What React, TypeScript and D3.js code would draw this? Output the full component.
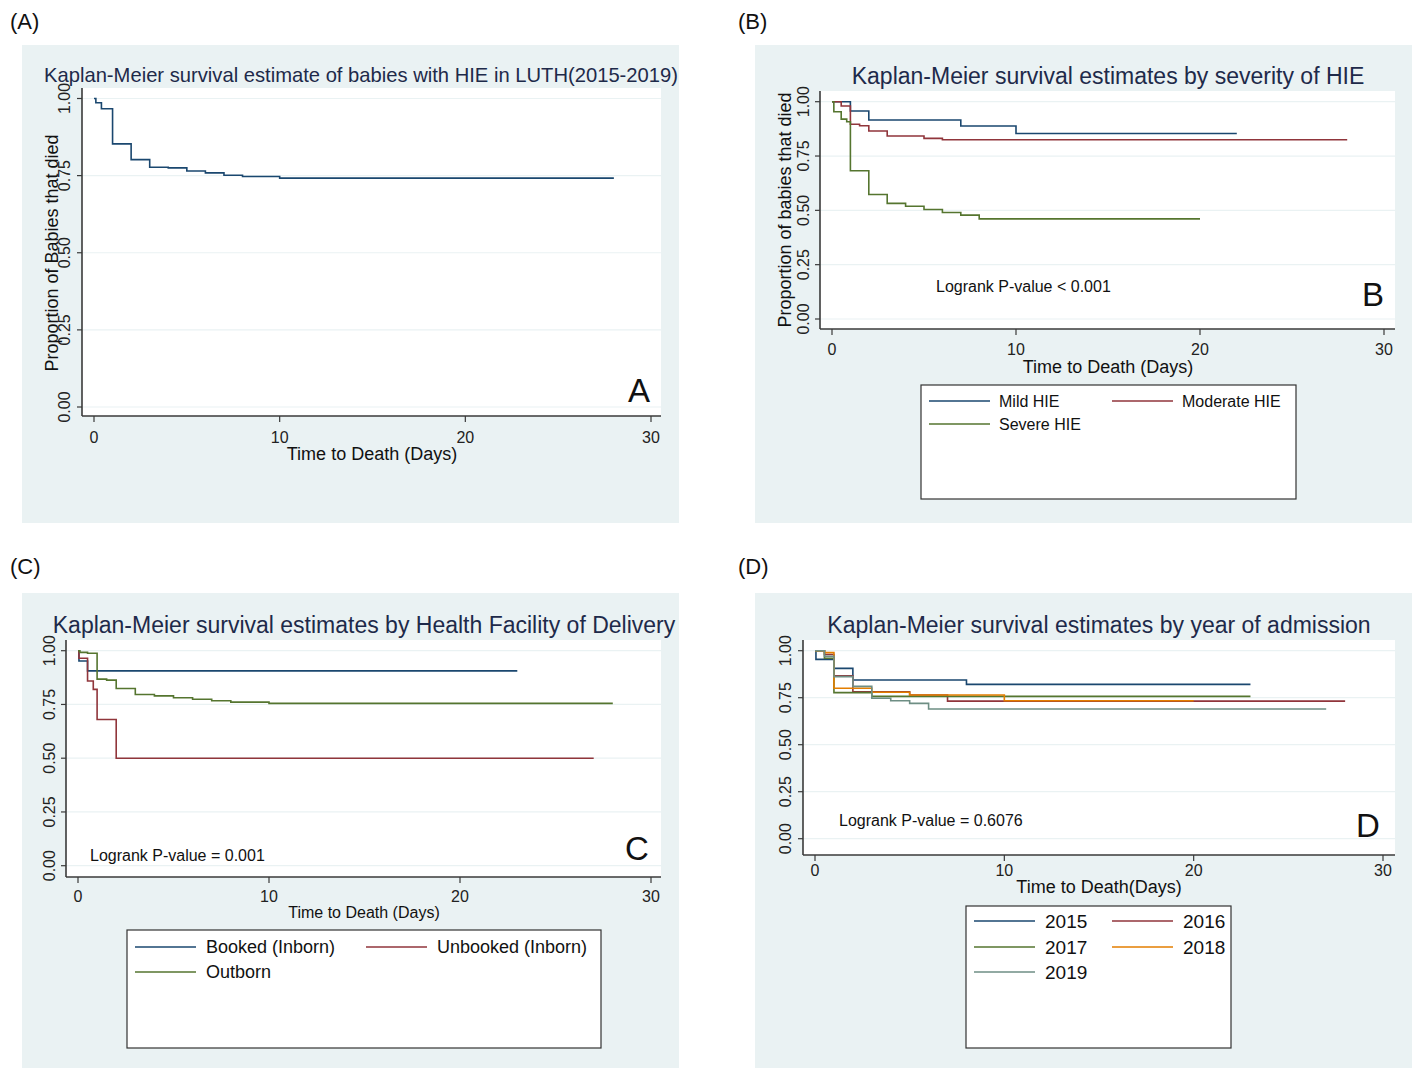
import * as d3 from 'd3';

// Kaplan-Meier step estimates (time in days, proportion surviving)
const dayTicks = [0, 10, 20, 30];
const propTicks = [0, 0.25, 0.5, 0.75, 1];

const overallT = [0, 0.1, 0.4, 1, 2, 3, 4, 5, 6, 7, 8, 10, 28];
const overallS = [1, 0.986, 0.967, 0.853, 0.802, 0.777, 0.775, 0.765, 0.759, 0.751, 0.747, 0.742, 0.742];

const mildT = [0, 1, 2, 7, 10, 22];
const mildS = [1, 0.957, 0.916, 0.888, 0.854, 0.854];
const moderateT = [0, 0.5, 1, 1.5, 2, 3, 5, 6, 28];
const moderateS = [1, 0.98, 0.896, 0.889, 0.865, 0.842, 0.831, 0.825, 0.825];
const severeT = [0, 0.1, 0.5, 0.8, 1, 2, 3, 4, 5, 6, 7, 8, 20];
const severeS = [1, 0.954, 0.92, 0.908, 0.682, 0.573, 0.532, 0.519, 0.504, 0.49, 0.478, 0.461, 0.461];

const bookedT = [0, 0.05, 0.5, 23];
const bookedS = [1, 0.952, 0.906, 0.906];
const unbookedT = [0, 0.05, 0.5, 0.8, 1, 2, 27];
const unbookedS = [1, 0.965, 0.859, 0.82, 0.68, 0.5, 0.5];
const outbornT = [0, 0.1, 0.5, 1, 1.5, 2, 3, 4, 5, 6, 7, 8, 10, 28];
const outbornS = [1, 0.992, 0.988, 0.868, 0.863, 0.824, 0.796, 0.79, 0.781, 0.774, 0.767, 0.761, 0.755, 0.755];

const y2015T = [0, 0.05, 1, 2, 8, 23];
const y2015S = [1, 0.954, 0.906, 0.844, 0.821, 0.821];
const y2016T = [0, 0.5, 1, 2, 5, 7, 28];
const y2016S = [1, 0.98, 0.867, 0.782, 0.764, 0.732, 0.732];
const y2017T = [0, 0.5, 1, 3, 23];
const y2017S = [1, 0.96, 0.777, 0.757, 0.757];
const y2018T = [0, 0.5, 1, 3, 5, 10, 20];
const y2018S = [1, 0.99, 0.8, 0.779, 0.764, 0.734, 0.734];
const y2019T = [0, 0.5, 1, 2, 3, 4, 5, 6, 27];
const y2019S = [1, 0.97, 0.862, 0.81, 0.747, 0.734, 0.72, 0.69, 0.69];

// stata s2color
const navy = '#1a476f';
const maroon = '#90353b';
const forest = '#55752f';
const dkorange = '#e37e00';
const teal = '#6e8e84';
const bgCol = '#eaf2f3';
const titleCol = '#1e2a4a';

const SANS = '"Liberation Sans", Arial, sans-serif';
const NARROW = '"Liberation Sans Narrow", "Liberation Sans", Arial, sans-serif';

const zip = (t, s) => t.map((d, i) => [d, s[i]]);

const panels = [
  {
    label: '(A)', lx: 10, ly: 29,
    bg: [22, 45, 657, 478],
    plot: { l: 82, t: 88, r: 661, b: 416 },
    xr: [94, 651], yr: [407, 98.5],
    title: 'Kaplan-Meier survival estimate of babies with HIE in LUTH(2015-2019)',
    tx: 361, ty: 82, tsize: 20.2,
    ytitle: 'Proportion of Babies that died', ytx: 58, yty: 253, ytsize: 18,
    ylabX: 70, ylabSize: 16,
    xlabY: 443, xlabSize: 16,
    xtitle: 'Time to Death (Days)', xtx: 372, xty: 460, xtsize: 18, xtfont: NARROW,
    letter: 'A', letX: 639, letY: 402,
    curves: [{ name: 'All', t: overallT, s: overallS, color: navy }],
  },
  {
    label: '(B)', lx: 738, ly: 29,
    bg: [755, 45, 657, 478],
    plot: { l: 820, t: 91, r: 1395, b: 329 },
    xr: [832, 1384], yr: [319, 101.7],
    title: 'Kaplan-Meier survival estimates by severity of HIE',
    tx: 1108, ty: 84, tsize: 23,
    ytitle: 'Proportion of babies that died', ytx: 791, yty: 210, ytsize: 18,
    ylabX: 809, ylabSize: 16,
    xlabY: 355, xlabSize: 16,
    xtitle: 'Time to Death (Days)', xtx: 1108, xty: 373, xtsize: 18, xtfont: NARROW,
    pval: 'Logrank P-value < 0.001', px: 936, py: 292,
    letter: 'B', letX: 1373, letY: 306,
    legend: { box: [921, 385, 375, 114], cols: [929, 1112], rows: [401, 424], size: 16, textGap: 70 },
    curves: [
      { name: 'Mild HIE', t: mildT, s: mildS, color: navy },
      { name: 'Moderate HIE', t: moderateT, s: moderateS, color: maroon },
      { name: 'Severe HIE', t: severeT, s: severeS, color: forest },
    ],
  },
  {
    label: '(C)', lx: 10, ly: 574,
    bg: [22, 593, 657, 475],
    plot: { l: 66, t: 640, r: 661, b: 877 },
    xr: [78, 651], yr: [865.7, 650.7],
    title: 'Kaplan-Meier survival estimates by Health Facility of Delivery',
    tx: 364, ty: 633, tsize: 23,
    ylabX: 55, ylabSize: 16,
    xlabY: 902, xlabSize: 16,
    xtitle: 'Time to Death (Days)', xtx: 364, xty: 918, xtsize: 16, xtfont: NARROW,
    pval: 'Logrank P-value = 0.001', px: 90, py: 861,
    letter: 'C', letX: 637, letY: 860,
    legend: { box: [127, 930, 474, 118], cols: [135, 366], rows: [947, 972], size: 18, textGap: 71 },
    curves: [
      { name: 'Booked (Inborn)', t: bookedT, s: bookedS, color: navy },
      { name: 'Unbooked (Inborn)', t: unbookedT, s: unbookedS, color: maroon },
      { name: 'Outborn', t: outbornT, s: outbornS, color: forest },
    ],
  },
  {
    label: '(D)', lx: 738, ly: 574,
    bg: [755, 593, 657, 475],
    plot: { l: 803, t: 640, r: 1395, b: 855 },
    xr: [815, 1383], yr: [838.7, 650.7],
    title: 'Kaplan-Meier survival estimates by year of admission',
    tx: 1099, ty: 633, tsize: 23,
    ylabX: 791, ylabSize: 16,
    xlabY: 876, xlabSize: 16,
    xtitle: 'Time to Death(Days)', xtx: 1099, xty: 893, xtsize: 18, xtfont: NARROW,
    pval: 'Logrank P-value = 0.6076', px: 839, py: 826,
    letter: 'D', letX: 1368, letY: 837,
    legend: { box: [966, 906, 265, 142], cols: [974, 1112], rows: [921, 947, 972], size: 19, textGap: 71 },
    curves: [
      { name: '2015', t: y2015T, s: y2015S, color: navy },
      { name: '2016', t: y2016T, s: y2016S, color: maroon },
      { name: '2017', t: y2017T, s: y2017S, color: forest },
      { name: '2018', t: y2018T, s: y2018S, color: dkorange },
      { name: '2019', t: y2019T, s: y2019S, color: teal },
    ],
  },
];

const KMPanel = ({ p }) => {
  const x = d3.scaleLinear().domain([0, 30]).range(p.xr);
  const y = d3.scaleLinear().domain([0, 1]).range(p.yr);
  const step = d3
    .line()
    .x((d) => x(d[0]))
    .y((d) => y(d[1]))
    .curve(d3.curveStepAfter);
  const { l, t, r, b } = p.plot;

  return (
    <g>
      <text x={p.lx} y={p.ly} fontSize={22} fontFamily={SANS} fill="#111">
        {p.label}
      </text>
      <rect x={p.bg[0]} y={p.bg[1]} width={p.bg[2]} height={p.bg[3]} fill={bgCol} />
      <rect x={l} y={t} width={r - l} height={b - t} fill="white" />
      {propTicks.map((v) => (
        <line key={'g' + v} x1={l} x2={r} y1={y(v)} y2={y(v)} stroke={bgCol} strokeWidth={1.2} />
      ))}
      <text x={p.tx} y={p.ty} fontSize={p.tsize} fontFamily={SANS} fill={titleCol} textAnchor="middle">
        {p.title}
      </text>

      {p.curves.map((c) => (
        <path key={c.name} d={step(zip(c.t, c.s))} fill="none" stroke={c.color} strokeWidth={1.6} />
      ))}

      {/* axes */}
      <line x1={l} x2={l} y1={t} y2={b} stroke="#3a3a3a" strokeWidth={1.6} />
      <line x1={l} x2={r} y1={b} y2={b} stroke="#3a3a3a" strokeWidth={1.6} />
      {propTicks.map((v) => (
        <g key={'y' + v}>
          <line x1={l - 5} x2={l} y1={y(v)} y2={y(v)} stroke="#3a3a3a" strokeWidth={1.2} />
          <text
            transform={`translate(${p.ylabX},${y(v)}) rotate(-90)`}
            fontSize={p.ylabSize}
            fontFamily={NARROW}
            fill="#222"
            textAnchor="middle"
          >
            {v.toFixed(2)}
          </text>
        </g>
      ))}
      {dayTicks.map((v) => (
        <g key={'x' + v}>
          <line x1={x(v)} x2={x(v)} y1={b} y2={b + 6} stroke="#3a3a3a" strokeWidth={1.2} />
          <text x={x(v)} y={p.xlabY} fontSize={p.xlabSize} fontFamily={NARROW} fill="#222" textAnchor="middle">
            {v}
          </text>
        </g>
      ))}
      <text x={p.xtx} y={p.xty} fontSize={p.xtsize} fontFamily={p.xtfont} fill="#111" textAnchor="middle">
        {p.xtitle}
      </text>
      {p.ytitle && (
        <text
          transform={`translate(${p.ytx},${p.yty}) rotate(-90)`}
          fontSize={p.ytsize}
          fontFamily={SANS}
          fill="#111"
          textAnchor="middle"
        >
          {p.ytitle}
        </text>
      )}
      {p.pval && (
        <text x={p.px} y={p.py} fontSize={16} fontFamily={NARROW} fill="#111">
          {p.pval}
        </text>
      )}
      <text x={p.letX} y={p.letY} fontSize={33} fontFamily={NARROW} fill="#111" textAnchor="middle">
        {p.letter}
      </text>

      {p.legend && (
        <g>
          <rect
            x={p.legend.box[0]}
            y={p.legend.box[1]}
            width={p.legend.box[2]}
            height={p.legend.box[3]}
            fill="white"
            stroke="#333"
            strokeWidth={1.2}
          />
          {p.curves.map((c, i) => {
            const cx = p.legend.cols[i % 2];
            const ry = p.legend.rows[Math.floor(i / 2)];
            return (
              <g key={'lg' + c.name}>
                <line x1={cx} x2={cx + 61} y1={ry} y2={ry} stroke={c.color} strokeWidth={1.6} />
                <text
                  x={cx + p.legend.textGap}
                  y={ry + p.legend.size * 0.36}
                  fontSize={p.legend.size}
                  fontFamily={NARROW}
                  fill="#111"
                >
                  {c.name}
                </text>
              </g>
            );
          })}
        </g>
      )}
    </g>
  );
};

export default function App() {
  return (
    <svg
      width={1416}
      height={1068}
      style={{ position: 'absolute', left: 0, top: 0, background: 'white' }}
    >
      {panels.map((p) => (
        <KMPanel key={p.label} p={p} />
      ))}
    </svg>
  );
}
